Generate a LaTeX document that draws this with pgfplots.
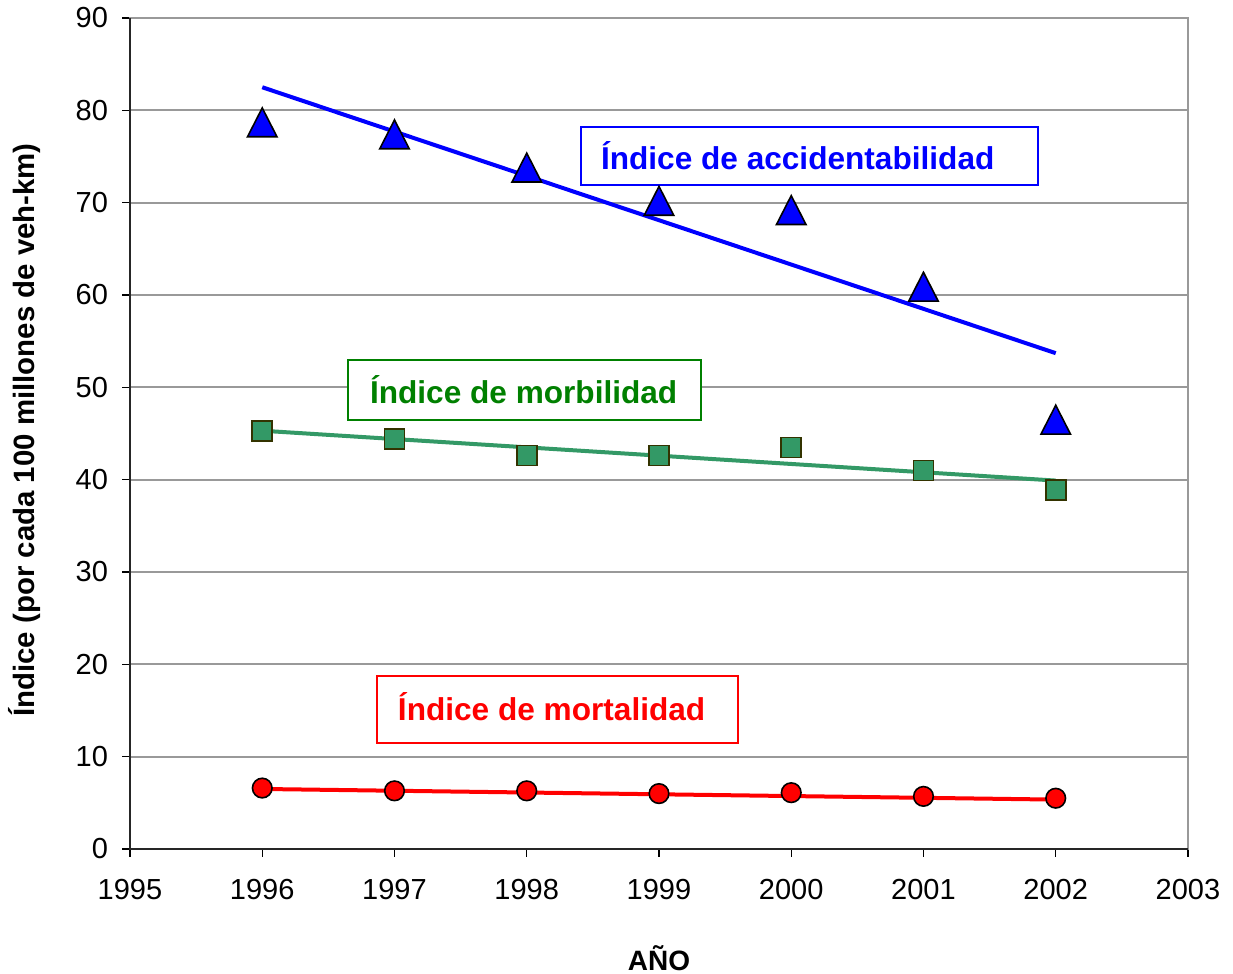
\documentclass[border=0pt]{standalone}
\usepackage{fontspec}
\setmainfont{Liberation Sans}
\usepackage{pgfplots}
\pgfplotsset{compat=1.18}
\definecolor{mgreen}{HTML}{339966}
\definecolor{medge}{HTML}{333300}
\definecolor{tgreen}{HTML}{008000}
\definecolor{gridgray}{HTML}{999999}
\begin{document}
\begin{tikzpicture}
\begin{axis}[name=ax, at={(0,0)}, anchor=south west, scale only axis,
  width=529pt, height=415.5pt,
  xmin=1995, xmax=2003, ymin=0, ymax=90,
  xtick={1995,1996,...,2003}, ytick={0,10,...,90},
  /pgf/number format/assume math mode=true,
  x tick label style={/pgf/number format/1000 sep={}, yshift=-7.5pt},
  y tick label style={xshift=-3.5pt},
  ticklabel style={font=\fontsize{14.5}{17}\selectfont, text=black},
  ymajorgrids, grid style={color=gridgray, line width=1pt},
  axis line style={gridgray, line width=1pt},
  tick align=outside, major tick length=4pt, xtick pos=bottom, ytick pos=left,
  major tick style={black, line width=0.6pt},
  clip=false]
\addplot[only marks, mark=triangle*, mark size=8.5pt,
  mark options={yshift=-2.4pt, yscale=1.13, fill=blue, draw=black, line width=0.8pt}]
  coordinates {(1996,78.7)(1997,77.4)(1998,73.8)(1999,70.2)(2000,69.2)(2001,60.9)(2002,46.5)};
\addplot[only marks, mark=square*, mark size=5pt,
  mark options={fill=mgreen, draw=medge, line width=0.8pt}]
  coordinates {(1996,45.3)(1997,44.4)(1998,42.6)(1999,42.6)(2000,43.5)(2001,41.0)(2002,38.9)};
\addplot[only marks, mark=*, mark size=4.9pt,
  mark options={fill=red, draw=black, line width=0.8pt}]
  coordinates {(1996,6.6)(1997,6.3)(1998,6.3)(1999,6.0)(2000,6.1)(2001,5.7)(2002,5.5)};
\addplot[blue, line width=2pt, no marks] coordinates {(1996,82.5)(2002,53.7)};
\addplot[mgreen, line width=2pt, no marks] coordinates {(1996,45.3)(2002,39.9)};
\addplot[red, line width=2pt, no marks] coordinates {(1996,6.5)(2002,5.35)};
\draw[black!85, line width=1pt] (rel axis cs:0,1) -- (rel axis cs:0,0) -- (rel axis cs:1,0);
\node[draw=blue, fill=white, line width=1pt, anchor=west, minimum height=29pt,
  inner xsep=10pt, text=blue,
  font=\bfseries\fontsize{15.8}{19}\selectfont] at (axis cs:1998.403,75.06) {\makebox[208.5pt][l]{Índice de accidentabilidad}};
\node[draw=tgreen, fill=white, line width=1pt, anchor=west, minimum height=30pt,
  inner xsep=11pt, text=tgreen,
  font=\bfseries\fontsize{15.8}{19}\selectfont] at (axis cs:1996.641,49.71) {\makebox[154.5pt][l]{Índice de morbilidad}};
\node[draw=red, fill=white, line width=1pt, anchor=west, minimum height=33.5pt,
  inner xsep=10.5pt, text=red,
  font=\bfseries\fontsize{15.8}{19}\selectfont] at (axis cs:1996.860,15.11) {\makebox[159.5pt][l]{\raisebox{2.5pt}{Índice de mortalidad}}};
\end{axis}
\node[rotate=90, font=\bfseries\fontsize{14.7}{17}\selectfont] at (-52.5pt,209.5pt) {Índice (por cada 100 millones de veh-km)};
\node[font=\bfseries\fontsize{14}{16}\selectfont] at (264.5pt,-54.5pt) {AÑO};
\pgfresetboundingbox
\useasboundingbox (-65pt,-62.5pt) rectangle (551.5pt,424.5pt);
\end{tikzpicture}
\end{document}
